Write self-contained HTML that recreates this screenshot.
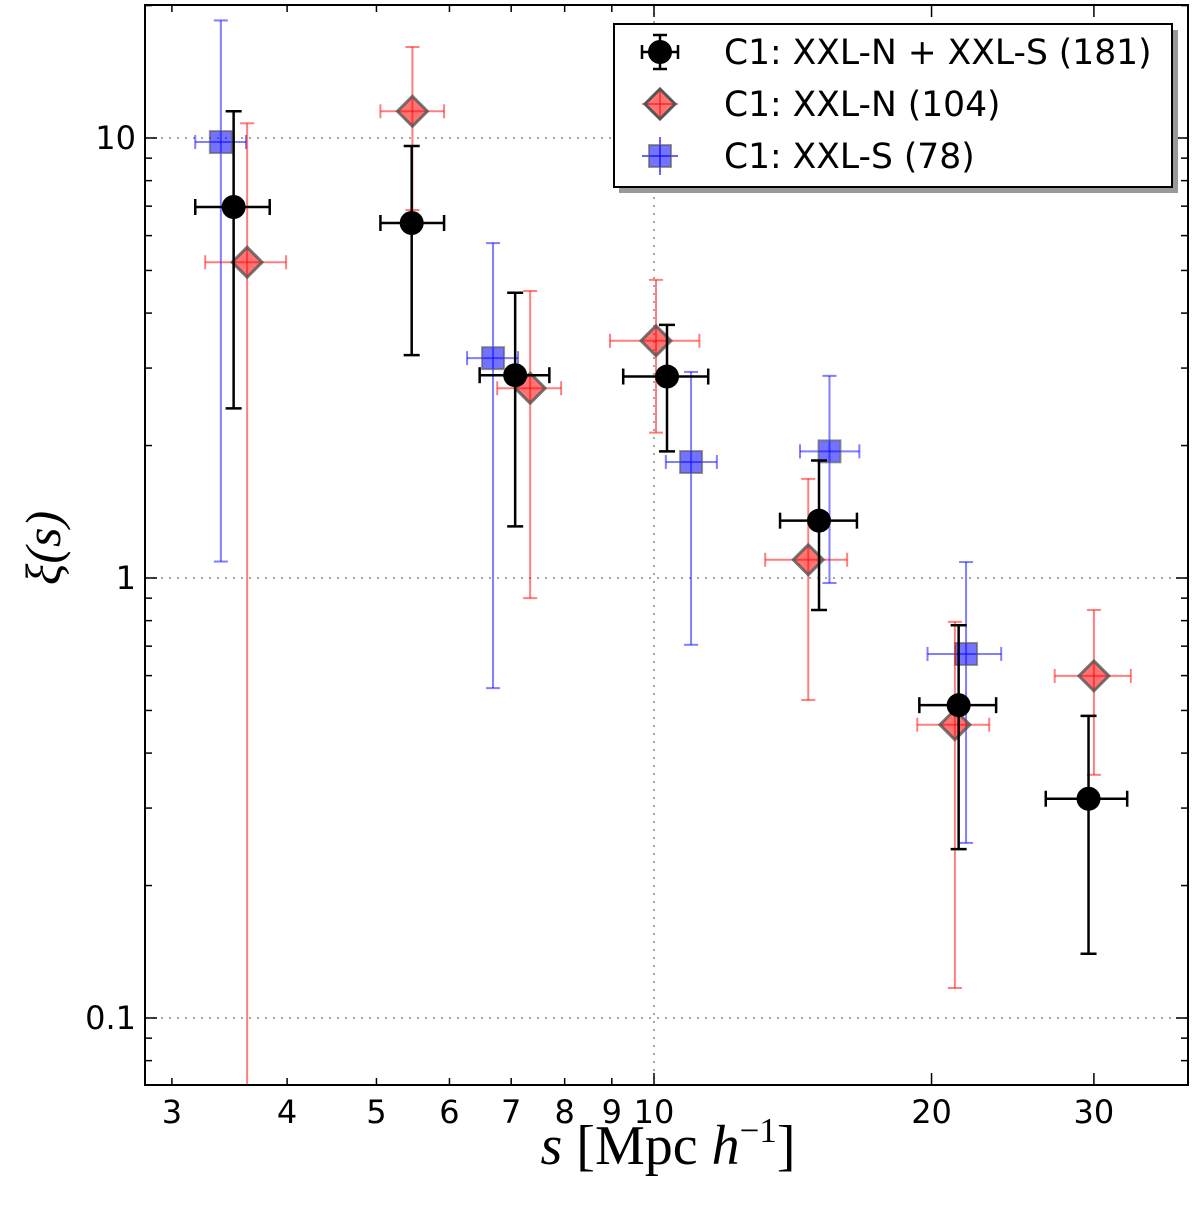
<!DOCTYPE html>
<html><head><meta charset="utf-8"><style>
body{margin:0;background:#fff;}
svg text{font-family:"DejaVu Sans","Liberation Sans",sans-serif;}
</style></head><body>
<svg id="chart" width="1200" height="1206" viewBox="0 0 1200 1206" xmlns="http://www.w3.org/2000/svg"></svg>
<script>
// ---- data ----
const allX   = [3.50, 5.46, 7.07, 10.33, 15.1, 21.4, 29.6];
const allXlo = [3.18, 5.05, 6.47, 9.26, 13.7, 19.4, 26.6];
const allXhi = [3.83, 5.92, 7.70, 11.45, 16.6, 23.5, 32.6];
const allY   = [6.97, 6.41, 2.89, 2.87, 1.35, 0.514, 0.315];
const allYlo = [2.43, 3.21, 1.31, 1.94, 0.846, 0.242, 0.14];
const allYhi = [11.5, 9.59, 4.45, 3.76, 1.85, 0.781, 0.486];

const nX   = [3.62, 5.47, 7.34, 10.05, 14.7, 21.2, 30.0];
const nXlo = [3.26, 5.05, 6.76, 8.96, 13.2, 19.3, 27.2];
const nXhi = [3.99, 5.92, 7.93, 11.2, 16.2, 23.1, 32.9];
const nY   = [5.22, 11.5, 2.70, 3.46, 1.10, 0.464, 0.599];
const nYlo = [0.05, 6.86, 0.90, 2.14, 0.528, 0.117, 0.357];
const nYhi = [10.8, 16.1, 4.49, 4.76, 1.68, 0.795, 0.846];

const sX   = [3.39, 6.69, 10.97, 15.5, 21.8];
const sXlo = [3.18, 6.27, 10.3, 14.4, 19.8];
const sXhi = [3.61, 7.12, 11.7, 16.7, 23.8];
const sY   = [9.79, 3.16, 1.835, 1.94, 0.672];
const sYlo = [1.09, 0.562, 0.705, 0.974, 0.25];
const sYhi = [18.5, 5.77, 2.94, 2.88, 1.087];

const xTicks = [3,4,5,6,7,8,9,10,20,30];
const xTickLabels = ["3","4","5","6","7","8","9","10","20","30"];
const yMajor = [0.1, 1, 10];
const yMajorLabels = ["0.1","1","10"];

// ---- axes ----
const L=145,R=1188,T=5,B=1085;
const xs = v => 654 + (Math.log10(v)-1)*922;
const ys = v => 138 - (Math.log10(v)-1)*440;
const svg=document.getElementById('chart');
const NS='http://www.w3.org/2000/svg';
function mk(tag,attrs,parent){const e=document.createElementNS(NS,tag);for(const k in attrs)e.setAttribute(k,attrs[k]);(parent||svg).appendChild(e);return e;}
const clip=mk('clipPath',{id:'pc'});mk('rect',{x:L,y:T,width:R-L,height:B-T},clip);

// grid
const grid=mk('g',{});


mk('line',{x1:xs(10),x2:xs(10),y1:T,y2:B,stroke:'#888','stroke-dasharray':'2 6','stroke-width':1.5},grid);
yMajor.forEach(v=>mk('line',{x1:L,x2:R,y1:ys(v),y2:ys(v),stroke:'#888','stroke-dasharray':'2 6','stroke-width':1.5},grid));

// ticks
const ticks=mk('g',{stroke:'#000','stroke-width':1.5});


for(const v of [3,4,5,6,7,8,9,10,20,30]){const big=v===10||v===20||v===30;const len=big?12:7;
 mk('line',{x1:xs(v),x2:xs(v),y1:B,y2:B-len},ticks);mk('line',{x1:xs(v),x2:xs(v),y1:T,y2:T+len},ticks);}
for(let d=-2;d<=1;d++)for(let m=1;m<=9;m++){const v=m*Math.pow(10,d);if(ys(v)<T||ys(v)>B)continue;const len=m===1?12:7;
 mk('line',{x1:L,x2:L+len,y1:ys(v),y2:ys(v)},ticks);mk('line',{x1:R,x2:R-len,y1:ys(v),y2:ys(v)},ticks);}

xTicks.forEach((v,i)=>{const t=mk('text',{x:xs(v),y:1123,'font-size':32,'text-anchor':'middle'});t.textContent=xTickLabels[i];
 
 });
yMajor.forEach((v,i)=>{const t=mk('text',{x:136,y:ys(v)+11,'font-size':32,'text-anchor':'end'});t.textContent=yMajorLabels[i];
 
 });

// series
function errbars(X,Xlo,Xhi,Y,Ylo,Yhi,color,op,w,cap,name){
 const g=mk('g',{'clip-path':'url(#pc)',stroke:color,'stroke-opacity':op,'stroke-width':w});
 
 
 X.forEach((x,i)=>{const px=xs(x),py=ys(Y[i]);
  mk('line',{x1:px,x2:px,y1:ys(Yhi[i]),y2:ys(Ylo[i])},g);
  mk('line',{x1:xs(Xlo[i]),x2:xs(Xhi[i]),y1:py,y2:py},g);
  [ys(Yhi[i]),ys(Ylo[i])].forEach(yy=>mk('line',{x1:px-cap,x2:px+cap,y1:yy,y2:yy},g));
  [xs(Xlo[i]),xs(Xhi[i])].forEach(xx=>mk('line',{x1:xx,x2:xx,y1:py-cap,y2:py+cap},g));});
}
errbars(sX,sXlo,sXhi,sY,sYlo,sYhi,'#0000ff',0.5,2,7,'xxl-s');
sX.forEach((x,i)=>{const r=mk('rect',{x:xs(x)-11,y:ys(sY[i])-11,width:22,height:22,fill:'#0000ff','fill-opacity':0.55,stroke:'#555','stroke-opacity':0.6,'stroke-width':2});
 
 });
errbars(nX,nXlo,nXhi,nY,nYlo,nYhi,'#ff0000',0.5,2,7,'xxl-n');
nX.forEach((x,i)=>{const px=xs(x),py=ys(nY[i]);const p=mk('polygon',{points:`${px},${py-15} ${px+15},${py} ${px},${py+15} ${px-15},${py}`,fill:'#ff0000','fill-opacity':0.55,stroke:'#555','stroke-opacity':0.8,'stroke-width':3});
 
 });
errbars(allX,allXlo,allXhi,allY,allYlo,allYhi,'#000',1,2.5,8,'combined');
allX.forEach((x,i)=>{const c=mk('circle',{cx:xs(x),cy:ys(allY[i]),r:12,fill:'#000'});
 
 });

// frame
const fr=mk('rect',{x:L,y:T,width:R-L,height:B-T,fill:'none',stroke:'#000','stroke-width':2});



// axis titles
const xt=mk('text',{x:668,y:1164,'font-size':56,'text-anchor':'middle',style:'font-family:"Liberation Serif",serif'});
xt.innerHTML='<tspan font-style="italic">s</tspan> [Mpc <tspan font-style="italic">h</tspan><tspan dy="-22" font-size="35">−1</tspan><tspan dy="22">]</tspan>';


const yt=mk('text',{x:0,y:0,'font-size':50,'text-anchor':'middle','font-style':'italic',style:'font-family:"Liberation Serif",serif',transform:'translate(60,548) rotate(-90)'});
yt.textContent='ξ(s)';



// legend
const lg=mk('g',{});


mk('rect',{x:619,y:30,width:559,height:163,fill:'#999'},lg);
mk('rect',{x:614,y:24,width:558,height:163,fill:'#fff',stroke:'#000','stroke-width':2},lg);
const ent=[['C1: XXL-N + XXL-S (181)',52],['C1: XXL-N (104)',104],['C1: XXL-S (78)',156]];
mk('line',{x1:660,x2:660,y1:35,y2:69,stroke:'#000','stroke-width':2.5},lg);
mk('line',{x1:642,x2:678,y1:52,y2:52,stroke:'#000','stroke-width':2.5},lg);
mk('line',{x1:653,x2:667,y1:35,y2:35,stroke:'#000','stroke-width':2.5},lg);
mk('line',{x1:653,x2:667,y1:69,y2:69,stroke:'#000','stroke-width':2.5},lg);
mk('line',{x1:642,x2:642,y1:45,y2:59,stroke:'#000','stroke-width':2.5},lg);
mk('line',{x1:678,x2:678,y1:45,y2:59,stroke:'#000','stroke-width':2.5},lg);
mk('circle',{cx:660,cy:52,r:12,fill:'#000'},lg);
mk('line',{x1:660,x2:660,y1:88,y2:120,stroke:'#f00','stroke-opacity':0.5,'stroke-width':2},lg);
mk('line',{x1:642,x2:678,y1:104,y2:104,stroke:'#f00','stroke-opacity':0.5,'stroke-width':2},lg);
mk('polygon',{points:'660,89 675,104 660,119 645,104',fill:'#f00','fill-opacity':0.55,stroke:'#555','stroke-width':3},lg);
mk('line',{x1:660,x2:660,y1:137,y2:175,stroke:'#00f','stroke-opacity':0.6,'stroke-width':2},lg);
mk('line',{x1:642,x2:678,y1:156,y2:156,stroke:'#00f','stroke-opacity':0.6,'stroke-width':2},lg);
mk('rect',{x:649,y:145,width:22,height:22,fill:'#00f','fill-opacity':0.55,stroke:'#555','stroke-opacity':0.6,'stroke-width':2},lg);
ent.forEach(([s,y])=>{const t=mk('text',{x:724,y:y+12,'font-size':34.5},lg);t.textContent=s;
 
 });
</script>
</body></html>
